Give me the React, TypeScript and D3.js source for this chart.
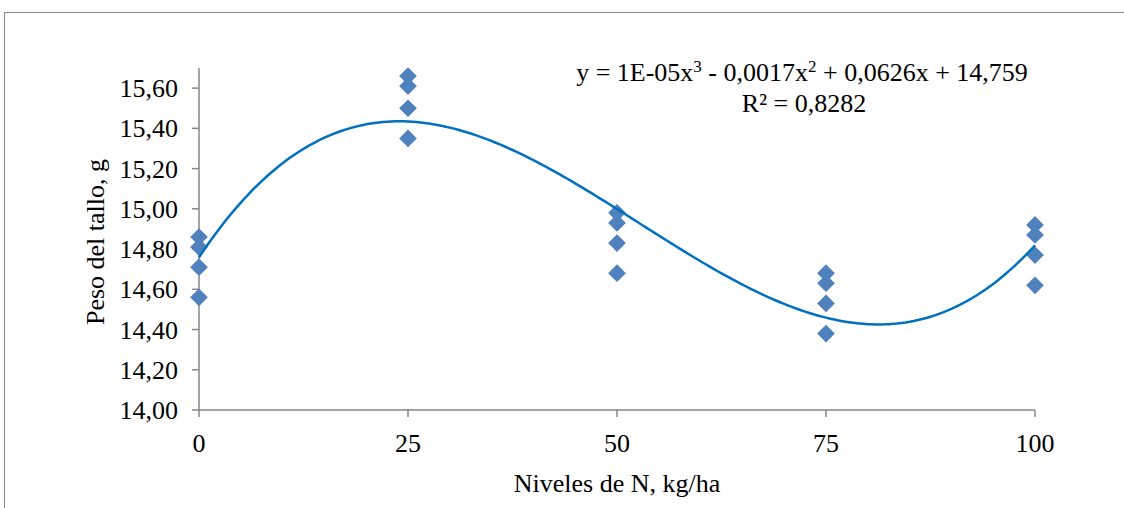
import React from 'react';
import * as d3 from 'd3';

// observations (N level, stem weight)
const nLevels = [0, 25, 50, 75, 100];
const pesoN0 = [14.86, 14.81, 14.71, 14.56];
const pesoN25 = [15.66, 15.61, 15.5, 15.35];
const pesoN50 = [14.98, 14.93, 14.83, 14.68];
const pesoN75 = [14.68, 14.63, 14.53, 14.38];
const pesoN100 = [14.92, 14.87, 14.77, 14.62];
const pesoByLevel = [pesoN0, pesoN25, pesoN50, pesoN75, pesoN100];

const yTicks = [14.0, 14.2, 14.4, 14.6, 14.8, 15.0, 15.2, 15.4, 15.6];
const equationText = ['y = 1E-05x', '3', ' - 0,0017x', '2', ' + 0,0626x + 14,759'];
const r2Text = 'R² = 0,8282';

const W = 1124;
const H = 508;
const margin = { left: 199, right: 89, top: 68, bottom: 98 };

// least squares cubic fit, like Excel's polynomial trendline
function fitCubic(xs: number[], ys: number[]) {
  const n = 4;
  const A = Array.from({ length: n }, () => new Array(n + 1).fill(0));
  xs.forEach((x, k) => {
    for (let i = 0; i < n; i++) {
      for (let j = 0; j < n; j++) A[i][j] += Math.pow(x, i + j);
      A[i][n] += ys[k] * Math.pow(x, i);
    }
  });
  for (let c = 0; c < n; c++) {
    let p = c;
    for (let r = c + 1; r < n; r++) if (Math.abs(A[r][c]) > Math.abs(A[p][c])) p = r;
    [A[c], A[p]] = [A[p], A[c]];
    for (let r = 0; r < n; r++) {
      if (r === c) continue;
      const f = A[r][c] / A[c][c];
      for (let k = c; k <= n; k++) A[r][k] -= f * A[c][k];
    }
  }
  return A.map((row, i) => row[n] / A[i][i]);
}

export default function App() {
  const points = nLevels.flatMap((x, i) => pesoByLevel[i].map((y) => ({ x, y })));
  const coef = fitCubic(points.map((p) => p.x), points.map((p) => p.y));
  const poly = (x: number) => coef[0] + coef[1] * x + coef[2] * x * x + coef[3] * x * x * x;

  const x = d3.scaleLinear().domain([0, 100]).range([margin.left, W - margin.right]);
  const y = d3.scaleLinear().domain([14, 15.7]).range([H - margin.bottom, margin.top]);

  const curve = d3
    .line<number>()
    .x((d) => x(d))
    .y((d) => y(poly(d)));
  const xs = d3.range(0, 100.5, 0.5);

  const axisColor = '#868686';
  const font = '"Liberation Serif", "Times New Roman", serif';
  const fs = 26;
  const diamond = d3.symbol(d3.symbolDiamond2, 200)();

  return (
    <svg width={W} height={H} style={{ position: 'absolute', left: 0, top: 0 }} fontFamily={font}>
      <rect x={4.5} y={12.5} width={W + 10} height={H + 10} fill="#fff" stroke={axisColor} strokeWidth={1} />

      {/* y axis */}
      <line x1={x(0)} x2={x(0)} y1={y(15.7)} y2={y(14)} stroke={axisColor} strokeWidth={1.5} />
      {yTicks.map((t) => (
        <g key={t}>
          <line x1={x(0) - 7} x2={x(0)} y1={y(t)} y2={y(t)} stroke={axisColor} strokeWidth={1.5} />
          <text x={x(0) - 21} y={y(t)} dy="0.35em" textAnchor="end" fontSize={fs} fill="#000">
            {t.toFixed(2).replace('.', ',')}
          </text>
        </g>
      ))}

      {/* x axis */}
      <line x1={x(0)} x2={x(100)} y1={y(14)} y2={y(14)} stroke={axisColor} strokeWidth={1.5} />
      {nLevels.map((t) => (
        <g key={t}>
          <line x1={x(t)} x2={x(t)} y1={y(14)} y2={y(14) + 7} stroke={axisColor} strokeWidth={1.5} />
          <text x={x(t)} y={452} textAnchor="middle" fontSize={fs} fill="#000">
            {t}
          </text>
        </g>
      ))}

      <text x={617} y={492} textAnchor="middle" fontSize={fs} fill="#000">
        Niveles de N, kg/ha
      </text>
      <text transform={`translate(104, 242) rotate(-90)`} textAnchor="middle" fontSize={fs} fill="#000">
        Peso del tallo, g
      </text>

      {points.map((p, i) => (
        <path key={i} d={diamond} transform={`translate(${x(p.x)},${y(p.y)})`} fill="#4F81BD" />
      ))}

      <path d={curve(xs) || ''} fill="none" stroke="#0070C0" strokeWidth={2.5} />

      <text x={802} y={81} textAnchor="middle" fontSize={fs} fill="#000">
        {equationText[0]}
        <tspan dy={-9} fontSize={17}>{equationText[1]}</tspan>
        <tspan dy={9}>{equationText[2]}</tspan>
        <tspan dy={-9} fontSize={17}>{equationText[3]}</tspan>
        <tspan dy={9}>{equationText[4]}</tspan>
      </text>
      <text x={804} y={112} textAnchor="middle" fontSize={fs} fill="#000">
        {r2Text}
      </text>
    </svg>
  );
}
